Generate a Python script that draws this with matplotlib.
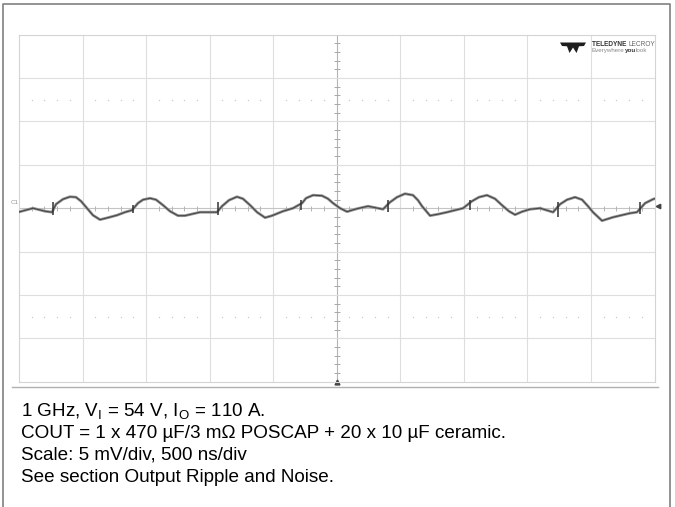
import numpy as np
import matplotlib
matplotlib.use('Agg')
import matplotlib.pyplot as plt
from matplotlib.lines import Line2D
from matplotlib.patches import Polygon

plt.rcParams['font.family'] = ['Liberation Sans', 'DejaVu Sans']
plt.rcParams['mathtext.fontset'] = 'custom'
plt.rcParams['mathtext.rm'] = 'Liberation Sans'

# scope settings: 500 ns/div, 5 mV/div, 10 x 8 divisions
ns_per_div = 500
mv_per_div = 5

# output ripple trace (time in ns, voltage in mV)
trace_t = [0, 110, 205, 260, 291, 346, 401, 448, 488, 535, 582, 637, 700, 771, 834,
           889, 936, 976, 1031, 1078, 1133, 1188, 1251, 1306, 1424, 1558, 1597, 1652,
           1715, 1762, 1818, 1873, 1936, 1991, 2077, 2156, 2227, 2258, 2313, 2384,
           2431, 2471, 2526, 2581, 2659, 2746, 2864, 2919, 2974, 3037, 3100, 3139,
           3171, 3234, 3297, 3368, 3494, 3564, 3619, 3682, 3745, 3800, 3855, 3903,
           3958, 4021, 4100, 4202, 4257, 4312, 4375, 4430, 4477, 4516, 4587, 4674,
           4807, 4862, 4926, 4989, 5000]
trace_mv = [-0.43, 0.0, -0.35, -0.46, 0.46, 1.04, 1.32, 1.27, 0.81, 0.0, -0.81, -1.32,
            -1.09, -0.81, -0.46, -0.23, 0.58, 0.98, 1.15, 0.98, 0.35, -0.35, -0.86,
            -0.86, -0.46, -0.46, 0.23, 0.92, 1.32, 1.09, 0.35, -0.46, -1.09, -0.86,
            -0.35, 0.0, 0.58, 1.15, 1.50, 1.44, 1.09, 0.58, 0.0, -0.40, -0.06, 0.23,
            -0.12, 0.69, 1.27, 1.67, 1.50, 0.92, 0.23, -0.86, -0.69, -0.46, 0.0, 0.81,
            1.27, 1.50, 1.09, 0.35, -0.35, -0.75, -0.40, -0.12, 0.0, -0.46, 0.46, 0.98,
            1.27, 0.98, 0.23, -0.46, -1.44, -1.04, -0.58, -0.46, 0.58, 1.04, 1.09]

# switching spikes riding on the ripple
spike_t = [268, 897, 1566, 2220, 2903, 3549, 4241, 4886]
spike_hi = [0.69, 0.35, 0.69, 0.92, 0.92, 0.92, 0.69, 0.69]
spike_lo = [-0.81, -0.58, -0.81, -0.23, -0.46, -0.23, -1.04, -0.69]

caption = [r"1 GHz, V$_\mathrm{I}$ = 54 V, I$_\mathrm{O}$ = 110 A.",
           "COUT = 1 x 470 µF/3 mΩ POSCAP + 20 x 10 µF ceramic.",
           "Scale: 5 mV/div, 500 ns/div",
           "See section Output Ripple and Noise."]

W, H = 675, 507
fig = plt.figure(figsize=(W / 100, H / 100), dpi=100)
fig.patch.set_facecolor('white')
renderer = fig.canvas.get_renderer()


def fx(x):
    return x / W


def fy(y):
    return 1 - y / H


def text_run(x, y, parts, size):
    # draw (string, weight, colour) pieces one after another on a line
    for s, weight, col in parts:
        t = fig.text(fx(x), fy(y), s, fontsize=size, fontweight=weight, color=col, va='center')
        x += t.get_window_extent(renderer).width


# outer frame (open at the bottom)
fig.add_artist(Line2D([fx(2.7), fx(2.7), fx(669.5), fx(669.5)],
                      [0, fy(4), fy(4), 0], color='#808080', lw=1.2))
# baseline under the screen
fig.add_artist(Line2D([fx(12), fx(658)], [fy(386.5), fy(386.5)], color='#b0b0b0', lw=1.0))

ax = fig.add_axes([fx(19), fy(381.7), fx(654.5) - fx(19), fy(34.7) - fy(381.7)])
xmax = 10 * ns_per_div
ymax = 4 * mv_per_div
ax.set_xlim(0, xmax)
ax.set_ylim(-ymax, ymax)
ax.set_xticks([])
ax.set_yticks([])
for s in ax.spines.values():
    s.set_color('#d4d4d4')
    s.set_linewidth(0.8)

# graticule
for t in range(ns_per_div, xmax, ns_per_div):
    c = '#b4b4b4' if t == xmax // 2 else '#dedede'
    ax.axvline(t, color=c, lw=0.8, zorder=1)
for v in range(-ymax + mv_per_div, ymax, mv_per_div):
    c = '#c4c4c4' if v == 0 else '#dedede'
    ax.axhline(v, color=c, lw=0.8, zorder=1)

# minor ticks on the centre cross
minor_t = [t for t in range(100, xmax, 100) if t % ns_per_div]
minor_v = [v for v in range(-ymax + 1, ymax) if v % mv_per_div]
ax.vlines(minor_t, -0.3, 0.3, color='#b4b4b4', lw=0.7, zorder=1)
ax.hlines(minor_v, xmax / 2 - 22, xmax / 2 + 22, color='#a8a8a8', lw=0.7, zorder=1)
for v in [2.5 * mv_per_div, -2.5 * mv_per_div]:
    ax.plot(minor_t, [v] * len(minor_t), ls='none', marker='s', ms=0.9,
            mec='none', color='#c8c8c8', zorder=1)

# trace: soft grey band with a darker core
ax.plot(trace_t, trace_mv, color='#959595', lw=2.0, solid_joinstyle='round', zorder=3)
ax.plot(trace_t, trace_mv, color='#474747', lw=0.8, solid_joinstyle='round', zorder=4)
ax.vlines(spike_t, spike_lo, spike_hi, color='#333333', lw=1.1, zorder=5)

# channel and trigger markers
ax.plot([xmax + 25], [0.3], marker='<', ms=3.2, color='#444444', clip_on=False)
ax.plot([xmax / 2], [-ymax], marker='^', ms=3.5, color='#444444', clip_on=False)
fig.text(fx(14.5), fy(203), 'C1', fontsize=4.5, color='#999999', ha='center', va='center')

# logo
icon = [(560, 42.5), (586, 42.5), (584, 46), (579, 46.3), (576.5, 53), (573, 47.5),
        (569.5, 53), (567, 46.3), (562, 46)]
fig.add_artist(Polygon([(fx(x), fy(y)) for x, y in icon], closed=True,
                       facecolor='#1e1e1e', edgecolor='none'))
text_run(592, 44.5, [('TELEDYNE ', 'bold', '#333333'), ('LECROY', 'normal', '#666666')], 4.7)
text_run(592, 50.5, [('Everywhere', 'normal', '#888888'), ('you', 'bold', '#333333'),
                     ('look', 'normal', '#888888')], 4.5)

# caption
for i, line in enumerate(caption):
    fig.text(fx(21), fy(416.5 + 21.7 * i), line, fontsize=13.6, color='black', va='baseline')

fig.savefig('out.png', dpi=100, facecolor='white')
